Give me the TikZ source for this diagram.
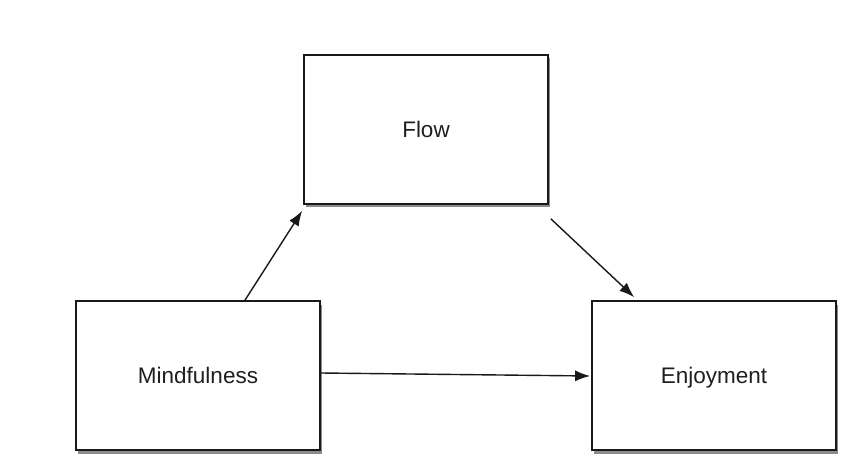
\documentclass[tikz,border=0pt]{standalone}
\usepackage{fontspec}
\setmainfont{Liberation Sans}
\usetikzlibrary{arrows.meta,shadows}
\tikzset{
  boxnode/.style={draw=black!90, line width=1.7pt, fill=white,
    minimum width=244pt, minimum height=149pt, inner sep=0pt,
    text height=16pt, text depth=0pt,
    font=\fontsize{22.5}{27}\selectfont, text=black!88,
    drop shadow={shadow xshift=1.5pt, shadow yshift=-3.5pt, opacity=0.45, fill=black}},
  conn/.style={line width=1.4pt, draw=black!90, -{Latex[length=15pt,width=11pt]}}
}
\begin{document}
\begin{tikzpicture}[x=1pt,y=-1pt]
\fill[white] (0,0) rectangle (845,470);
\useasboundingbox (0,0) rectangle (845,470);
\node[boxnode] (f) at (426,129.5) {Flow};
\node[boxnode] (m) at (198,375.5) {Mindfulness};
\node[boxnode] (e) at (714,375.5) {Enjoyment};
\draw[conn] ([xshift=47pt]m.north) -- ([xshift=-1pt,yshift=-6pt]f.south west);
\draw[conn] ([xshift=2pt,yshift=-14pt]f.south east) -- ([xshift=43pt,yshift=3pt]e.north west);
\draw[conn] ([yshift=2.5pt]m.east) -- ([xshift=-1pt,yshift=-0.5pt]e.west);
\end{tikzpicture}
\end{document}
